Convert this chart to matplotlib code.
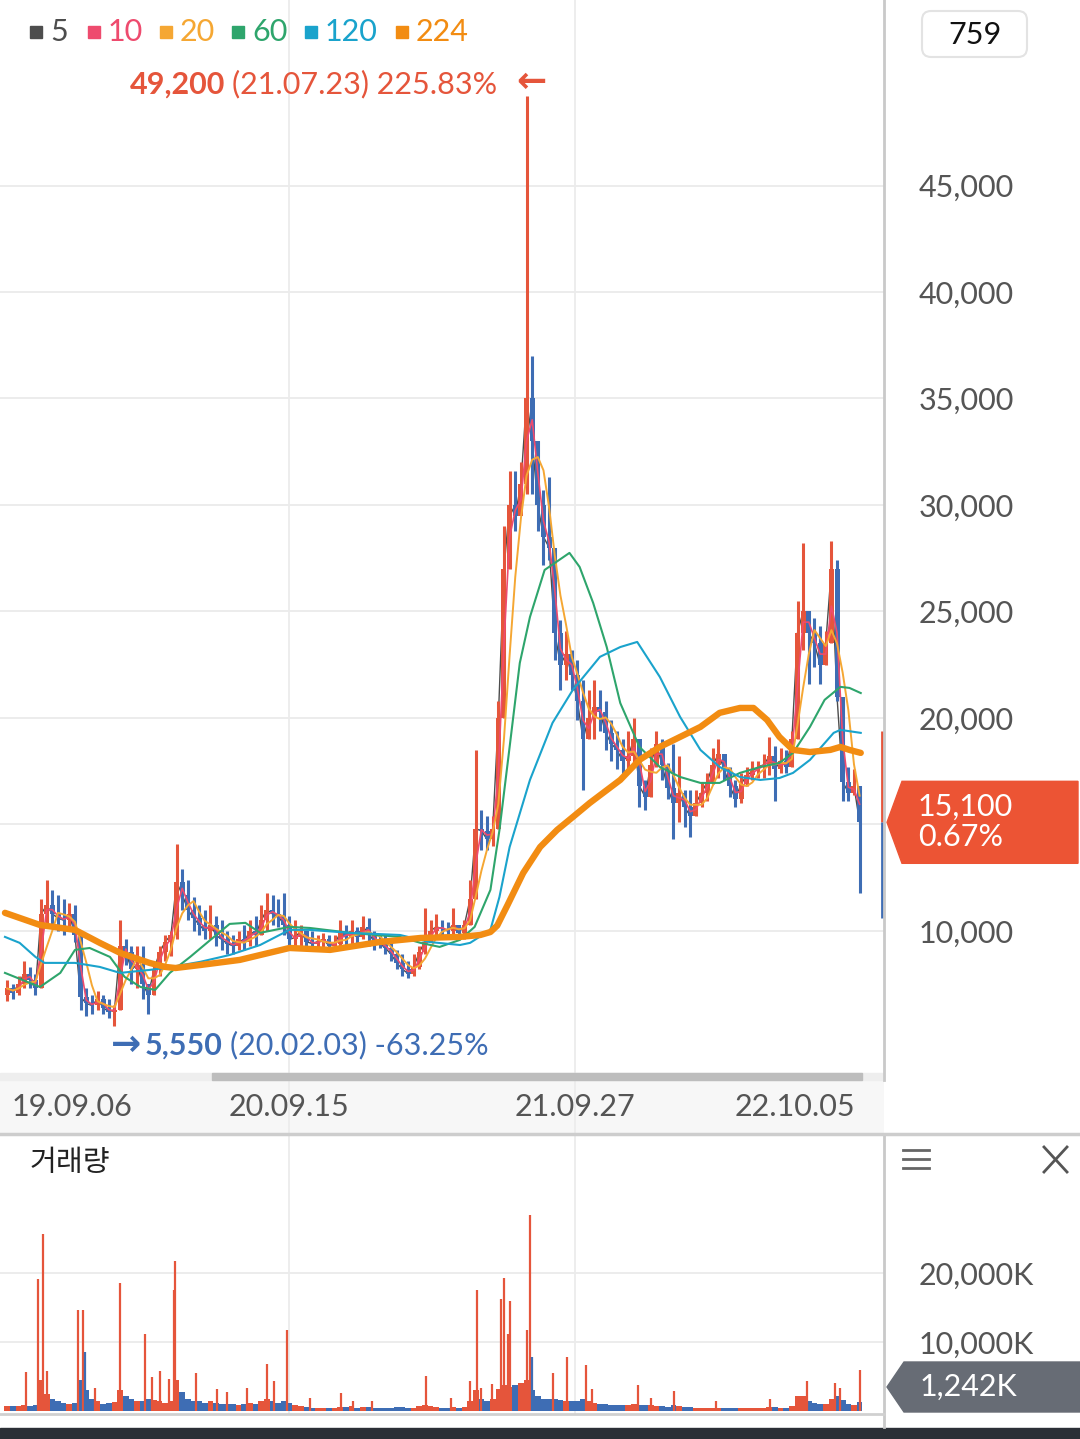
import matplotlib
matplotlib.use('Agg')
import matplotlib.pyplot as plt
from matplotlib.patches import Polygon, Rectangle, FancyBboxPatch
import numpy as np
import pandas as pd

plt.rcParams['font.family'] = ['Lato', 'DejaVu Sans']

# ---- price data, one candle = 5 trading days ----
first_open = 7000
highs = [7700, 7500, 7900, 8600, 8300, 8000, 11500, 12400, 11900, 11700,
         11500, 11300, 11200, 9500, 7300, 7000, 7200, 7000, 6800, 6500,
         10500, 9600, 9300, 9300, 9300, 7500, 8500, 9300, 9800, 10000,
         14100, 12900, 12400, 11600, 11200, 11000, 11200, 10700, 10500, 10000,
         9800, 10000, 10300, 10500, 10700, 11200, 11800, 11700, 11500, 11800,
         10700, 10500, 10300, 10000, 10000, 9800, 9900, 9800, 9800, 10500,
         10300, 10500, 10200, 10700, 10600, 10000, 9800, 9800, 9600, 9100,
         8900, 8600, 8900, 9300, 11100, 10500, 10800, 10500, 10400, 11100,
         10300, 10500, 12400, 18500, 15700, 15400, 15400, 20800, 29000, 31600,
         31600, 32000, 49200, 37000, 33000, 30700, 31300, 28000, 24600, 24100,
         23200, 22700, 21800, 21300, 21800, 21300, 20800, 19900, 19400, 19000,
         19400, 20000, 19000, 17100, 18600, 19400, 19000, 17900, 18800, 18200,
         16600, 16600, 16600, 17000, 17400, 18600, 19000, 18200, 17700, 17100,
         17400, 17700, 18000, 18000, 18300, 19100, 18700, 18600, 18500, 19400,
         25500, 28200, 25000, 24700, 24300, 24100, 28300, 27400, 21000, 17700,
         17600, 16800]
lows = [6700, 6800, 7000, 7300, 7300, 7000, 7300, 10300, 10200, 10000,
        9800, 10000, 9500, 6300, 6000, 6100, 6300, 6100, 5900, 5550,
        6300, 8400, 7500, 7300, 6800, 6100, 7000, 7900, 8600, 8800,
        9600, 11000, 10500, 10000, 9800, 9600, 9600, 9300, 9100, 8900,
        8900, 9100, 9100, 9300, 9300, 9800, 10000, 10300, 10200, 9800,
        9100, 9100, 9300, 9100, 9100, 9200, 9200, 9100, 9100, 9300,
        9300, 9300, 9300, 9600, 9300, 9100, 9200, 8900, 8600, 8200,
        7900, 7800, 7900, 8200, 8900, 9600, 9800, 9800, 9700, 9800,
        9600, 9600, 10300, 11500, 13800, 13800, 14000, 14800, 20000, 27000,
        28800, 29800, 30500, 30500, 28800, 27200, 27400, 22700, 21300, 21800,
        21300, 19900, 16600, 19000, 19000, 19400, 18500, 18000, 17600, 17300,
        17600, 17800, 15800, 15700, 16300, 17700, 17100, 16200, 14300, 15100,
        14900, 14400, 15400, 15800, 16100, 16900, 17200, 17100, 16300, 15800,
        16000, 16800, 17100, 17200, 17200, 17300, 16100, 17400, 17400, 17700,
        19000, 23200, 21600, 22400, 21600, 22500, 23500, 20800, 16100, 16100,
        16400, 11800]
closes = [7300, 7100, 7500, 8000, 7700, 7300, 10800, 11200, 10800, 10600,
          10500, 10800, 9800, 6900, 6600, 6500, 6800, 6400, 6200, 6300,
          9300, 9000, 8200, 8400, 7500, 7000, 8200, 9000, 9500, 9800,
          12300, 11700, 11000, 10600, 10300, 10000, 10300, 9800, 9600, 9400,
          9300, 9600, 9500, 10000, 9800, 10500, 11000, 10800, 10700, 10300,
          9600, 9700, 10000, 9500, 9400, 9500, 9600, 9300, 9400, 9900,
          9700, 10000, 9700, 10200, 9900, 9500, 9400, 9200, 8900, 8500,
          8200, 8000, 8300, 9000, 9500, 10000, 10200, 10100, 10000, 10300,
          9900, 10300, 11500, 14800, 14700, 14300, 14800, 20000, 27000, 30000,
          29500, 31000, 35000, 33000, 30000, 28500, 28000, 24000, 22500, 23000,
          22000, 20800, 19000, 20000, 20500, 20300, 19300, 18800, 18500, 18000,
          18200, 19000, 16800, 16300, 17800, 18800, 17800, 16700, 16000, 16500,
          15800, 15400, 16000, 16500, 17000, 17800, 18300, 17600, 16800, 16200,
          16900, 17300, 17500, 17700, 17800, 18200, 17600, 18000, 17700, 19000,
          24000, 25000, 24000, 23500, 22500, 23500, 27000, 21000, 17000, 16500,
          16800, 15100]

# volume (K shares): typical level per candle + single-day spikes
vol_base = [700, 700, 700, 800, 700, 900, 4500, 2500, 1800, 1400,
            1200, 1000, 1200, 4500, 3000, 1800, 1400, 1000, 1100, 1300,
            3000, 2200, 1800, 1500, 1400, 1800, 1600, 1400, 1200, 1400,
            4500, 2800, 1800, 1500, 1400, 1200, 1400, 1200, 1000, 1000,
            1000, 900, 1000, 1100, 1000, 1400, 1800, 1400, 1200, 1400,
            1100, 800, 700, 600, 500, 500, 500, 500, 500, 600,
            600, 700, 500, 600, 600, 500, 400, 400, 500, 600,
            600, 500, 500, 700, 900, 700, 600, 500, 500, 600,
            500, 600, 1400, 3000, 1800, 1500, 1700, 3200, 3800, 3500,
            3800, 4000, 4500, 3000, 2200, 1800, 1800, 1800, 1600, 1400,
            1400, 1400, 1800, 1400, 1200, 1000, 1000, 800, 800, 800,
            800, 1000, 900, 800, 800, 700, 700, 600, 900, 700,
            600, 600, 500, 500, 500, 500, 500, 500, 500, 500,
            500, 500, 500, 500, 500, 600, 600, 500, 500, 700,
            2200, 2200, 1400, 1200, 1000, 1000, 1800, 2200, 1600, 1000,
            900, 1242]
spike_day = [19, 29, 34, 37, 65, 69, 71, 80, 102, 124, 130, 137, 145, 150, 151,
             169, 188, 197, 214, 232, 238, 250, 270, 298, 308, 325, 373, 395,
             412, 418, 422, 431, 439, 442, 446, 447, 462, 465, 467, 485, 498,
             515, 520, 561, 572, 593, 630, 678, 704, 710, 735, 740, 757]
spike_vol = [5600, 19100, 25600, 5800, 14700, 14700, 8500, 3400, 18500, 11100,
             4900, 5800, 4600, 17600, 21700, 5500, 3200, 2700, 3300, 6800, 4300,
             11700, 1900, 2600, 1500, 1500, 5100, 1900, 4400, 17600, 3400, 3900,
             16300, 19300, 11200, 15900, 11700, 28400, 7800, 5500, 7800, 6600,
             3200, 3800, 1900, 2900, 1400, 1700, 1700, 4300, 4100, 3300, 6000]
spike_down = [71, 467]

# long moving averages (trading-day index, price)
ma60_day = [0, 22, 31, 49, 62, 75, 93, 106, 120, 133, 146, 164, 182, 199, 213,
            226, 252, 270, 306, 350, 368, 385, 403, 416, 430, 438, 447, 456,
            465, 478, 500, 509, 521, 533, 545, 562, 580, 598, 616, 633, 651,
            669, 686, 698, 713, 726, 740, 748, 758]
ma60_val = [8030, 7560, 7370, 8030, 9110, 9200, 8780, 7840, 7370, 7230, 8030,
            8780, 9580, 10330, 10380, 9910, 10190, 10140, 9910, 9720, 9440,
            9250, 9580, 10190, 11930, 14740, 18640, 22580, 24740, 26950, 27750,
            27090, 25400, 23330, 20700, 18640, 17700, 17230, 16950, 16950,
            17420, 17700, 17890, 18360, 19580, 20850, 21460, 21410, 21170]
ma120_day = [0, 13, 27, 35, 62, 84, 102, 128, 142, 173, 199, 226, 252, 270,
             306, 350, 376, 403, 412, 430, 438, 447, 465, 485, 503, 527, 545,
             560, 580, 598, 616, 633, 651, 669, 686, 698, 713, 734, 740, 758]
ma120_val = [9720, 9440, 8780, 8500, 8500, 8310, 8030, 8170, 8260, 8550, 8870,
             9340, 10050, 10050, 9910, 9810, 9480, 9340, 9440, 10050, 11600,
             13940, 17090, 19770, 21320, 22870, 23330, 23570, 21930, 20050,
             18500, 17700, 17230, 17090, 17180, 17420, 18030, 19300, 19440, 19300]
ma224_day = [0, 31, 62, 84, 102, 128, 142, 151, 173, 208, 252, 288, 332, 368,
             403, 421, 430, 436, 445, 459, 474, 489, 503, 518, 545, 562, 580,
             598, 616, 633, 651, 663, 675, 686, 698, 713, 731, 740, 748, 758]
ma224_val = [10850, 10280, 10050, 9440, 8970, 8500, 8310, 8260, 8400, 8640,
             9200, 9110, 9480, 9670, 9720, 9810, 9950, 10250, 11200, 12720,
             13940, 14740, 15350, 16010, 17090, 18030, 18640, 19110, 19580,
             20240, 20470, 20470, 19910, 19110, 18500, 18400, 18500, 18640,
             18500, 18360]

ma_labels = ['5', '10', '20', '60', '120', '224']
ma_colors = ['#4d4d4d', '#ee4b6e', '#f5a733', '#2ea56c', '#1aa3cc', '#f28c12']

price_ticks = [10000, 15000, 20000, 25000, 30000, 35000, 40000, 45000]
hidden_tick = 15000  # sits under the last-price tag
vol_ticks = [10000, 20000]
date_day = [59, 252, 505, 700]
date_labels = ['19.09.06', '20.09.15', '21.09.27', '22.10.05']
grid_day = [252, 505]

peak_day, peak_price, peak_date = 465, 49200, '21.07.23'
low_day, low_price, low_date = 97, 5550, '20.02.03'
last_close, last_chg, last_vol = 15100, 0.67, 1242
range_hi, range_lo = 19400, 10600
n_candles = 759

RED = '#e5553b'
BLUE = '#3e6db4'
GRAY_TXT = '#555555'
FS = 22

W, H = 1080, 1439
fig = plt.figure(figsize=(W / 100, H / 100), dpi=100)


def box(x0, y0, x1, y1):
    return [x0 / W, 1 - y1 / H, (x1 - x0) / W, (y1 - y0) / H]


ax = fig.add_axes(box(0, 0, 884, 1073))
ax_d = fig.add_axes(box(0, 1080, 884, 1133), sharex=ax)
ax_v = fig.add_axes(box(0, 1135, 884, 1415), sharex=ax)
for a in (ax, ax_d, ax_v):
    for s in a.spines.values():
        s.set_visible(False)
    a.tick_params(axis='x', bottom=False, labelbottom=False)
ax.set_xlim(-4.4, 778.6)
ax.set_ylim(3330, 53710)
ax_v.set_ylim(-580, 40000)
ax_d.set_ylim(0, 1)
ax_d.set_facecolor('#f7f7f7')
ax_d.set_yticks([])

# grids
for a in (ax, ax_v):
    a.grid(axis='y', color='#ebebeb', lw=1.3)
    a.set_axisbelow(True)
for a in (ax, ax_d, ax_v):
    for g in grid_day:
        a.axvline(g, color='#ececec', lw=1.3, zorder=0)

# candles
closes_a = np.array(closes, dtype=float)
opens_a = np.r_[first_open, closes_a[:-1]]
xc = np.arange(len(closes)) * 5 + 2
up = closes_a >= opens_a
cols = np.where(up, RED, BLUE)

ma5 = pd.Series(closes_a).rolling(1).mean()
ma10 = pd.Series(closes_a).rolling(2, min_periods=1).mean()
ma20 = pd.Series(closes_a).rolling(4, min_periods=1).mean()
ax.plot(xc, ma5, color=ma_colors[0], lw=1.0, zorder=2)

ax.vlines(xc, lows, highs, colors=cols, lw=2.2, zorder=3)
body = np.maximum(np.abs(closes_a - opens_a), 100)
ax.bar(xc, body, bottom=np.minimum(opens_a, closes_a), width=4.4,
       color=cols, zorder=3)

ax.plot(xc, ma10, color=ma_colors[1], lw=1.2, zorder=4)
ax.plot(xc, ma20, color=ma_colors[2], lw=1.4, zorder=4)
ax.plot(ma60_day, ma60_val, color=ma_colors[3], lw=1.5, zorder=4)
ax.plot(ma120_day, ma120_val, color=ma_colors[4], lw=1.5, zorder=4)
ax.plot(ma224_day, ma224_val, color=ma_colors[5], lw=4.6, zorder=4,
        solid_capstyle='round', solid_joinstyle='round')

# current range marker on the right edge
ax.vlines(777, last_close, range_hi, color=RED, lw=2, zorder=5)
ax.vlines(777, range_lo, last_close, color=BLUE, lw=2, zorder=5)

# right price axis
ax.yaxis.tick_right()
ax.set_yticks(price_ticks)
ax.set_yticklabels(['' if v == hidden_tick else f'{v:,}' for v in price_ticks])
ax.tick_params(axis='y', length=0, pad=25, labelsize=FS, labelcolor=GRAY_TXT)

# max / min annotations
pct_hi = (peak_price / last_close - 1) * 100
pct_lo = (low_price / last_close - 1) * 100
ax.annotate('\u2190', xy=(peak_day, peak_price), xytext=(1, 10),
            textcoords='offset points', ha='center', va='center',
            color=RED, fontsize=26, fontweight='bold',
            family=['DejaVu Sans'], zorder=6)
t_hi = ax.annotate(f'({peak_date}) {pct_hi:.2f}%', xy=(peak_day, peak_price),
                   xytext=(-23.5, 8.5), textcoords='offset points',
                   ha='right', va='center', color=RED, fontsize=FS, zorder=6)
ax.annotate(f'{peak_price:,}', xy=(0, 0.5), xycoords=t_hi, xytext=(-5, 0),
            textcoords='offset points', ha='right', va='center', color=RED,
            fontsize=FS, fontweight='bold')
t_arr = ax.annotate('\u2192', xy=(low_day, low_price), xytext=(8, -14),
                    textcoords='offset points', ha='center', va='center',
                    color=BLUE, fontsize=26, fontweight='bold',
                    family=['DejaVu Sans'], zorder=6)
t_lo = ax.annotate(f'{low_price:,}', xy=(1, 0.5), xycoords=t_arr, xytext=(3, 0),
                   textcoords='offset points', ha='left', va='center',
                   color=BLUE, fontsize=FS, fontweight='bold')
ax.annotate(f'({low_date}) {pct_lo:.2f}%', xy=(1, 0.5), xycoords=t_lo,
            xytext=(5, 0), textcoords='offset points', ha='left', va='center',
            color=BLUE, fontsize=FS)

# dates
for d, lab in zip(date_day, date_labels):
    ax_d.text(d, 0.5, lab, ha='center', va='center', fontsize=FS,
              color=GRAY_TXT)

# volume
vcols = np.where(up, RED, BLUE)
ax_v.bar(xc, vol_base, width=5, color=vcols, zorder=2)
sp_cols = [BLUE if d in spike_down else RED for d in spike_day]
ax_v.vlines(spike_day, 0, spike_vol, colors=sp_cols, lw=1.6, zorder=3)
ax_v.yaxis.tick_right()
ax_v.set_yticks(vol_ticks)
ax_v.set_yticklabels([f'{v:,}K' for v in vol_ticks])
ax_v.tick_params(axis='y', length=0, pad=25, labelsize=FS, labelcolor=GRAY_TXT)

# overlay in pixel coordinates for the chrome
ov = fig.add_axes([0, 0, 1, 1], zorder=10)
ov.set_xlim(0, W)
ov.set_ylim(H, 0)
ov.axis('off')
ov.patch.set_alpha(0)

ov.plot([884, 884], [0, 1080], color='#c9c9c9', lw=2)
ov.plot([884, 884], [1135, 1427], color='#c9c9c9', lw=2)
ov.plot([0, 1080], [1134, 1134], color='#cdcdcd', lw=2.5)
ov.plot([0, 884], [1414, 1414], color='#d0d0d0', lw=2)
ov.add_patch(Rectangle((0, 1073), 884, 7, color='#eeeeee'))
ov.add_patch(Rectangle((212, 1073), 650, 7, color='#bdbdbd'))
ov.add_patch(Rectangle((0, 1428), W, 11, color='#2b2f36'))

# legend
leg_x = [30, 88, 160, 232, 305, 396]
for x0, lab, c in zip(leg_x, ma_labels, ma_colors):
    ov.add_patch(Rectangle((x0, 26), 12, 12, color=c))
    ov.text(x0 + 20, 32, lab, ha='left', va='center', fontsize=FS, color=c)

# candle count box
ov.add_patch(FancyBboxPatch((922, 11), 105, 46,
                            boxstyle='round,pad=0,rounding_size=9',
                            fc='white', ec='#e3e3e3', lw=1.5))
ov.text(975, 35, str(n_candles), ha='center', va='center', fontsize=FS,
        color='#111111')

# last price tag
yp = H - ax.transData.transform((0, last_close))[1]
ov.add_patch(Polygon([(887, yp), (902, yp - 41), (1078, yp - 41),
                      (1078, yp + 41), (902, yp + 41)], closed=True,
                     color='#ec5434'))
ov.text(918, yp - 16, f'{last_close:,}', ha='left', va='center',
        fontsize=FS, color='white')
ov.text(918, yp + 15, f'{last_chg:.2f}%', ha='left', va='center',
        fontsize=FS, color='white')

# volume tag
yv = min(H - ax_v.transData.transform((0, last_vol))[1], 1387)
ov.add_patch(Polygon([(887, yv), (904, yv - 25), (1080, yv - 25),
                      (1080, yv + 25), (904, yv + 25)], closed=True,
                     color='#676c75'))
ov.text(920, yv, f'{last_vol:,}K', ha='left', va='center', fontsize=FS,
        color='white')

# volume panel header
ov.text(30, 1163, '거래량', ha='left', va='center', fontsize=21,
        color='#222222', family=['Noto Sans CJK KR'])
for yy in (1150, 1159, 1168):
    ov.plot([903, 929], [yy, yy], color='#666666', lw=2)
ov.plot([1044, 1067], [1147, 1172], color='#555555', lw=2)
ov.plot([1044, 1067], [1172, 1147], color='#555555', lw=2)

fig.savefig('out.png', dpi=100)
